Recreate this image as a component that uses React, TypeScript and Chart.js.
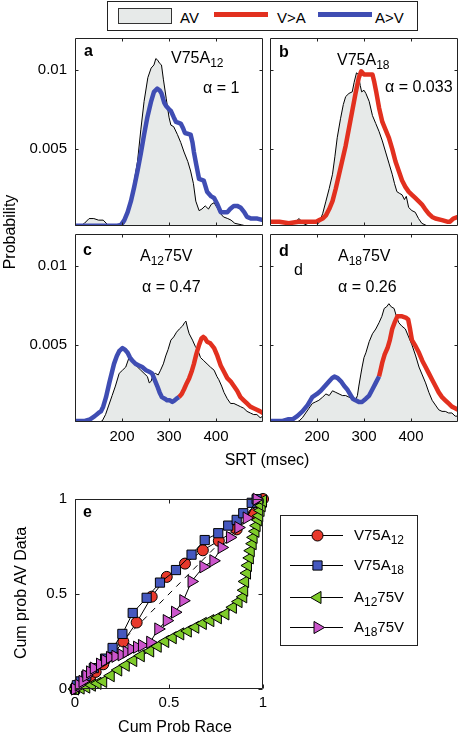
import React, { useEffect, useRef } from "react";
import { Chart, registerables } from "chart.js";
import { drawPoint } from "chart.js/helpers";

Chart.register(...registerables);

const FONT = "'Liberation Sans', Arial, Helvetica, sans-serif";

type Pt = [number, number];

// ---- tick values ----
const SRT_TICKS = [200, 300, 400];
const PROB_TICKS = [0.005, 0.01];
const CUM_TICKS = [0, 0.5, 1];

// ---- panel a: V75A12 ----
const A_AV: Pt[] = [[100,0.0001],[110,0.0001],[120,0.0003],[130,0.0006],[140,0.0006],[150,0.0005],[160,0.0005],[170,0.0002],[180,0.0001],[195,0.0001],[205,0.0003],[215,0.0012],[225,0.0028],[233,0.0042],[240,0.0062],[247,0.008],[255,0.0095],[262,0.0101],[268,0.0103],[272,0.0107],[276,0.0106],[280,0.0104],[284,0.0103],[288,0.0094],[294,0.0082],[300,0.007],[304,0.0065],[310,0.0064],[318,0.0059],[325,0.0054],[332,0.0048],[340,0.0042],[346,0.0036],[352,0.0028],[357,0.0017],[364,0.0011],[370,0.0012],[377,0.0014],[384,0.0012],[390,0.0015],[396,0.0016],[402,0.0013],[410,0.0009],[416,0.0007],[425,0.0006],[432,0.0005],[440,0.0003],[455,0.0002],[468,0.0001],[480,0.0001],[500,0.0001]];
const A_AV_GT_V: Pt[] = [[100,0.00015],[150,0.00015],[190,0.00015],[198,0.0002],[205,0.0005],[212,0.001],[219,0.0017],[226,0.0026],[233,0.0036],[240,0.0047],[247,0.0059],[254,0.007],[262,0.008],[268,0.0086],[275,0.0088],[280,0.0087],[284,0.0085],[290,0.0079],[294,0.0077],[300,0.0075],[304,0.0074],[310,0.007],[315,0.0067],[325,0.0066],[330,0.0063],[334,0.006],[346,0.0059],[350,0.0054],[353,0.0048],[358,0.004],[364,0.0031],[374,0.003],[378,0.0026],[381,0.0023],[390,0.002],[396,0.0019],[403,0.0015],[410,0.001],[424,0.001],[430,0.0012],[438,0.0014],[445,0.0014],[452,0.0013],[460,0.001],[466,0.0007],[475,0.0006],[488,0.0006],[500,0.0005]];

// ---- panel b: V75A18 ----
const B_AV: Pt[] = [[100,0.0001],[130,0.0001],[150,0.0003],[162,0.0006],[170,0.0003],[185,0.0001],[198,0.0001],[205,0.0004],[212,0.0009],[219,0.0017],[226,0.0025],[233,0.0034],[238,0.0045],[243,0.0057],[250,0.0069],[256,0.0078],[261,0.0083],[268,0.0085],[275,0.0086],[279,0.0092],[284,0.0098],[288,0.0097],[292,0.009],[295,0.0086],[300,0.0087],[304,0.0085],[311,0.008],[318,0.0071],[325,0.0066],[332,0.0061],[339,0.0055],[346,0.0048],[353,0.0041],[360,0.0034],[365,0.0028],[370,0.0023],[375,0.0022],[381,0.0021],[386,0.0018],[390,0.002],[395,0.0013],[402,0.0011],[409,0.001],[416,0.0006],[423,0.0003],[430,0.0002],[438,0.0001],[460,0.0001],[500,0.0001]];
const B_V_GT_A: Pt[] = [[100,0.0004],[120,0.0004],[140,0.0003],[160,0.0004],[180,0.0004],[198,0.0004],[205,0.0005],[212,0.0006],[219,0.0008],[226,0.0012],[233,0.0017],[240,0.0025],[247,0.0034],[254,0.0043],[261,0.0052],[268,0.0063],[275,0.0074],[282,0.0085],[289,0.0095],[294,0.0099],[300,0.0097],[310,0.0097],[318,0.0097],[322,0.0092],[326,0.0086],[332,0.0076],[339,0.0067],[346,0.0062],[353,0.0057],[360,0.005],[367,0.0042],[374,0.0036],[381,0.003],[388,0.0026],[395,0.0023],[402,0.0021],[409,0.0019],[416,0.0017],[423,0.0015],[430,0.0012],[438,0.0009],[445,0.0007],[452,0.0006],[466,0.0005],[477,0.0004],[483,0.0004],[490,0.0006],[500,0.0007]];

// ---- panel c: A12 75V ----
const C_AV: Pt[] = [[100,0.0001],[130,0.0001],[150,0.0001],[158,0.0002],[165,0.0006],[172,0.0012],[179,0.0018],[186,0.0024],[194,0.0032],[201,0.0034],[208,0.0036],[215,0.0042],[220,0.0041],[226,0.0038],[233,0.0036],[240,0.0034],[247,0.0032],[254,0.003],[258,0.0026],[262,0.0027],[266,0.0031],[271,0.0032],[277,0.0031],[282,0.0034],[288,0.0038],[293,0.0043],[298,0.0047],[304,0.0053],[310,0.0055],[316,0.0058],[322,0.006],[329,0.0062],[333,0.0064],[336,0.0065],[340,0.006],[343,0.0057],[350,0.0053],[356,0.0049],[361,0.0047],[367,0.0042],[374,0.004],[381,0.0038],[388,0.0036],[396,0.0034],[402,0.003],[406,0.0028],[412,0.0024],[417,0.002],[424,0.0016],[431,0.0013],[438,0.0013],[445,0.0012],[452,0.0011],[459,0.001],[466,0.0008],[473,0.0007],[480,0.0006],[487,0.0006],[494,0.0004],[500,0.0005]];
const C_AV_GT_V: Pt[] = [[100,0.0002],[110,0.0002],[121,0.0002],[132,0.0003],[142,0.0005],[150,0.0007],[155,0.0008],[160,0.0011],[166,0.0017],[173,0.0026],[178,0.0032],[183,0.0038],[189,0.0043],[194,0.0046],[201,0.0048],[206,0.0047],[212,0.0045],[217,0.0042],[222,0.004],[229,0.0038],[236,0.0037],[243,0.0036],[251,0.0034],[258,0.0033],[264,0.0032],[268,0.0029],[275,0.0024],[280,0.002],[285,0.0017],[291,0.0016],[296,0.0015],[302,0.0015],[307,0.0014],[312,0.0015],[316,0.0016],[321,0.0017]];
const C_V_GT_A: Pt[] = [[321,0.0017],[327,0.0019],[332,0.0022],[338,0.0026],[343,0.0029],[348,0.0033],[353,0.0038],[358,0.0044],[364,0.005],[369,0.0054],[373,0.0055],[377,0.0054],[381,0.0052],[388,0.0051],[396,0.0048],[403,0.0043],[410,0.0037],[417,0.0033],[424,0.0029],[431,0.0027],[438,0.0024],[445,0.0021],[452,0.0017],[459,0.0015],[466,0.0013],[473,0.0011],[480,0.001],[487,0.0009],[494,0.0008],[500,0.0007]];

// ---- panel d: A18 75V ----
const D_AV: Pt[] = [[100,0.0001],[140,0.0001],[155,0.0001],[162,0.0002],[169,0.0004],[176,0.0007],[183,0.001],[190,0.0013],[197,0.0014],[204,0.0015],[212,0.0017],[219,0.0019],[226,0.0018],[233,0.0021],[240,0.002],[247,0.0019],[254,0.0018],[261,0.0018],[268,0.0017],[275,0.0016],[282,0.0015],[286,0.0018],[289,0.0024],[293,0.0031],[296,0.0036],[300,0.0042],[304,0.0045],[311,0.0052],[318,0.0057],[325,0.006],[332,0.0064],[338,0.0068],[343,0.0073],[348,0.0074],[353,0.0076],[358,0.0074],[364,0.0073],[369,0.0068],[374,0.0064],[380,0.0062],[388,0.006],[395,0.0055],[402,0.005],[410,0.0043],[417,0.0036],[424,0.0031],[431,0.0026],[438,0.002],[445,0.0015],[452,0.0012],[459,0.0009],[466,0.0008],[473,0.0008],[480,0.0007],[487,0.0007],[494,0.0005],[500,0.0005]];
const D_AV_GT_V: Pt[] = [[100,0.0002],[115,0.0002],[127,0.0002],[138,0.0003],[148,0.0003],[158,0.0005],[169,0.0008],[180,0.0012],[190,0.0017],[200,0.0019],[208,0.0021],[217,0.0024],[226,0.0027],[232,0.0029],[237,0.003],[244,0.0029],[251,0.0027],[258,0.0024],[264,0.0022],[270,0.0019],[276,0.0016],[282,0.0015],[289,0.0014],[296,0.0014],[304,0.0016],[311,0.0018],[318,0.0022],[325,0.0026],[332,0.003]];
const D_V_GT_A: Pt[] = [[332,0.003],[336,0.0035],[339,0.0039],[344,0.0044],[350,0.0048],[355,0.0053],[360,0.006],[365,0.0064],[371,0.0068],[381,0.0068],[390,0.0067],[394,0.0066],[398,0.006],[402,0.0053],[410,0.0049],[417,0.0045],[424,0.004],[431,0.0036],[438,0.0032],[445,0.0028],[452,0.0024],[459,0.002],[466,0.0017],[473,0.0015],[480,0.0013],[487,0.0011],[494,0.001],[500,0.0009]];

// ---- panel e: cumulative probability, race vs AV data ----
const E_V75A12: Pt[] = [[0,0],[0.01,0.01],[0.03,0.02],[0.05,0.04],[0.08,0.06],[0.11,0.09],[0.15,0.13],[0.2,0.18],[0.257,0.25],[0.328,0.35],[0.408,0.486],[0.488,0.59],[0.585,0.66],[0.68,0.73],[0.765,0.78],[0.86,0.84],[0.95,0.92],[0.99,0.97],[1,1]];
const E_V75A18: Pt[] = [[0,0],[0.01,0.02],[0.03,0.04],[0.06,0.07],[0.1,0.11],[0.16,0.16],[0.2,0.216],[0.252,0.29],[0.307,0.4],[0.381,0.48],[0.452,0.56],[0.537,0.626],[0.62,0.707],[0.69,0.784],[0.762,0.82],[0.815,0.86],[0.86,0.89],[0.895,0.925],[0.94,0.98],[0.966,0.999]];
const E_A12_75V: Pt[] = [[0,0],[0.03,0.005],[0.06,0.01],[0.09,0.02],[0.12,0.03],[0.15,0.04],[0.19,0.07],[0.23,0.1],[0.27,0.125],[0.31,0.15],[0.35,0.175],[0.4,0.2],[0.44,0.225],[0.48,0.25],[0.52,0.27],[0.56,0.29],[0.6,0.305],[0.64,0.325],[0.68,0.345],[0.72,0.36],[0.76,0.375],[0.8,0.395],[0.84,0.43],[0.87,0.46],[0.895,0.485],[0.9,0.52],[0.905,0.566],[0.915,0.61],[0.92,0.65],[0.93,0.69],[0.935,0.728],[0.945,0.765],[0.95,0.798],[0.96,0.83],[0.966,0.86],[0.975,0.89],[0.98,0.912],[0.987,0.94],[0.993,0.965],[1,0.99]];
const E_A18_75V: Pt[] = [[0,0],[0.02,0.02],[0.04,0.04],[0.06,0.07],[0.08,0.09],[0.1,0.11],[0.133,0.131],[0.16,0.15],[0.186,0.166],[0.215,0.172],[0.248,0.18],[0.275,0.195],[0.3,0.21],[0.33,0.22],[0.356,0.229],[0.4,0.246],[0.443,0.316],[0.488,0.36],[0.532,0.404],[0.576,0.465],[0.62,0.566],[0.683,0.643],[0.736,0.675],[0.78,0.745],[0.824,0.798],[0.869,0.85],[0.913,0.9],[0.966,0.999]];
const E_DIAG: Pt[] = [[0,0],[1,1]];

// ---- styles ----
const GRAY_FILL = "#e7eae9";
const RED = "#e2301f";
const BLUE = "#3f4db3";
const M_RED = "#e8392b";
const M_BLUE = "#4558bf";
const M_GREEN = "#7fcc2a";
const M_MAG = "#cc55cc";
const FRAME = "#222";

type Part = { t: string; size: number; dy?: number; bold?: boolean };
type Run = { x: number; y: number; parts: Part[] };

const sub = (t: string, size = 12): Part => ({ t, size, dy: 4 });
const txt = (t: string, size = 16, bold = false): Part => ({ t, size, bold });

const xy = (arr: Pt[]) => arr.map(([x, y]) => ({ x, y }));

function drawRuns(ctx: CanvasRenderingContext2D, runs: Run[], ox: number, oy: number) {
  ctx.save();
  ctx.fillStyle = "#000";
  ctx.textBaseline = "alphabetic";
  ctx.textAlign = "left";
  for (const r of runs) {
    let x = r.x - ox;
    for (const p of r.parts) {
      ctx.font = `${p.bold ? "bold " : ""}${p.size}px ${FONT}`;
      ctx.fillText(p.t, x, r.y - oy + (p.dy || 0));
      x += ctx.measureText(p.t).width;
    }
  }
  ctx.restore();
}

const framePlugin = (len: number) => ({
  id: "frameTicks",
  afterDatasetsDraw(chart: any) {
    const { ctx, chartArea: a, scales } = chart;
    ctx.save();
    ctx.strokeStyle = FRAME;
    ctx.lineWidth = 1;
    const L = Math.round(a.left) + 0.5;
    const R = Math.round(a.right) - 0.5;
    const T = Math.round(a.top) + 0.5;
    const B = Math.round(a.bottom) - 0.5;
    ctx.beginPath();
    ctx.rect(L, T, R - L, B - T);
    for (const t of scales.x.ticks) {
      const p = Math.round(scales.x.getPixelForValue(t.value)) + 0.5;
      ctx.moveTo(p, B); ctx.lineTo(p, B - len);
      ctx.moveTo(p, T); ctx.lineTo(p, T + len);
    }
    for (const t of scales.y.ticks) {
      const p = Math.round(scales.y.getPixelForValue(t.value)) + 0.5;
      ctx.moveTo(L, p); ctx.lineTo(L + len, p);
      ctx.moveTo(R, p); ctx.lineTo(R - len, p);
    }
    ctx.stroke();
    ctx.restore();
  },
});

const textPlugin = (runs: Run[], ox: number, oy: number) => ({
  id: "annot",
  afterDraw(chart: any) {
    drawRuns(chart.ctx, runs, ox, oy);
  },
});

type Geo = { left: number; top: number; width: number; height: number; padTop: number; padRight: number; yWidth: number; xHeight: number };

function scaleOpts(opts: { min: number; max: number; ticks: number[]; show: boolean; pad: number; size: number; horizontal: boolean }) {
  return {
    type: "linear" as const,
    display: true,
    min: opts.min,
    max: opts.max,
    afterBuildTicks: (s: any) => {
      s.ticks = opts.ticks.map((v) => ({ value: v }));
    },
    ticks: {
      display: opts.show,
      padding: opts.pad,
      color: "#000",
      font: { family: FONT, size: 15 },
      maxRotation: 0,
      autoSkip: false,
      callback: (v: any) => String(v),
    },
    grid: { display: false, drawTicks: false },
    border: { display: false },
    afterFit: (s: any) => {
      if (opts.horizontal) s.height = opts.size;
      else s.width = opts.size;
      s.paddingLeft = 0; s.paddingRight = 0; s.paddingTop = 0; s.paddingBottom = 0;
    },
  };
}

function ChartCanvas({ geo, build }: { geo: Geo; build: () => any }) {
  const ref = useRef<HTMLCanvasElement>(null);
  useEffect(() => {
    const chart = new Chart(ref.current as HTMLCanvasElement, build());
    return () => chart.destroy();
  }, []);
  return (
    <canvas
      ref={ref}
      width={geo.width}
      height={geo.height}
      style={{ position: "absolute", left: geo.left, top: geo.top, width: geo.width, height: geo.height }}
    />
  );
}

type PanelDef = {
  geo: Geo;
  av: Pt[];
  lines: { data: Pt[]; color: string }[];
  xLabels: boolean;
  yLabels: boolean;
  runs: Run[];
};

function panelConfig(p: PanelDef) {
  const g = p.geo;
  return {
    type: "line",
    data: {
      datasets: [
        ...p.lines.map((l) => ({
          data: xy(l.data),
          borderColor: l.color,
          borderWidth: 4.5,
          fill: false,
          pointRadius: 0,
          tension: 0,
          borderJoinStyle: "round",
          order: 1,
        })),
        {
          data: xy(p.av),
          borderColor: "#000",
          borderWidth: 1,
          backgroundColor: GRAY_FILL,
          fill: "start",
          pointRadius: 0,
          tension: 0,
          order: 10,
        },
      ],
    },
    options: {
      animation: false,
      responsive: false,
      devicePixelRatio: 1,
      events: [],
      layout: { padding: { left: 0, top: g.padTop, right: g.padRight, bottom: 0 } },
      plugins: { legend: { display: false }, tooltip: { enabled: false } },
      scales: {
        x: scaleOpts({ min: 100, max: 500, ticks: SRT_TICKS, show: p.xLabels, pad: 6, size: g.xHeight, horizontal: true }),
        y: scaleOpts({ min: 0.00013, max: 0.012, ticks: PROB_TICKS, show: p.yLabels, pad: 8, size: g.yWidth, horizontal: false }),
      },
    },
    plugins: [framePlugin(3), textPlugin(p.runs, g.left, g.top)],
  };
}

const PANELS: PanelDef[] = [
  {
    geo: { left: 0, top: 0, width: 266, height: 232, padTop: 38, padRight: 3, yWidth: 75, xHeight: 6 },
    av: A_AV,
    lines: [{ data: A_AV_GT_V, color: BLUE }],
    xLabels: false,
    yLabels: true,
    runs: [
      { x: 84, y: 56, parts: [txt("a", 16, true)] },
      { x: 171, y: 63, parts: [txt("V75A"), sub("12")] },
      { x: 203, y: 93, parts: [txt("α = 1")] },
    ],
  },
  {
    geo: { left: 266, top: 0, width: 196, height: 232, padTop: 38, padRight: 4, yWidth: 4, xHeight: 6 },
    av: B_AV,
    lines: [{ data: B_V_GT_A, color: RED }],
    xLabels: false,
    yLabels: false,
    runs: [
      { x: 279, y: 57, parts: [txt("b", 16, true)] },
      { x: 337, y: 65, parts: [txt("V75A"), sub("18")] },
      { x: 385, y: 92, parts: [txt("α = 0.033")] },
    ],
  },
  {
    geo: { left: 0, top: 232, width: 266, height: 240, padTop: 2, padRight: 3, yWidth: 75, xHeight: 50 },
    av: C_AV,
    lines: [
      { data: C_AV_GT_V, color: BLUE },
      { data: C_V_GT_A, color: RED },
    ],
    xLabels: true,
    yLabels: true,
    runs: [
      { x: 83, y: 255, parts: [txt("c", 16, true)] },
      { x: 140, y: 261, parts: [txt("A"), sub("12"), txt("75V")] },
      { x: 142, y: 292, parts: [txt("α = 0.47")] },
    ],
  },
  {
    geo: { left: 266, top: 232, width: 196, height: 240, padTop: 2, padRight: 4, yWidth: 4, xHeight: 50 },
    av: D_AV,
    lines: [
      { data: D_AV_GT_V, color: BLUE },
      { data: D_V_GT_A, color: RED },
    ],
    xLabels: true,
    yLabels: false,
    runs: [
      { x: 279, y: 256, parts: [txt("d", 16, true)] },
      { x: 294, y: 275, parts: [txt("d")] },
      { x: 338, y: 261, parts: [txt("A"), sub("18"), txt("75V")] },
      { x: 338, y: 292, parts: [txt("α = 0.26")] },
    ],
  },
];

// ---- panel e ----
const E_GEO: Geo = { left: 0, top: 470, width: 462, height: 266, padTop: 29, padRight: 199, yWidth: 75, xHeight: 47 };

const E_SERIES = [
  { data: E_V75A12, color: M_RED, style: "circle", radius: 5.5, rotation: 0, label: [txt("V75A", 15), sub("12", 12)], order: 5 },
  { data: E_V75A18, color: M_BLUE, style: "rect", radius: 6.5, rotation: 0, label: [txt("V75A", 15), sub("18", 12)], order: 4 },
  { data: E_A12_75V, color: M_GREEN, style: "triangle", radius: 7, rotation: 270, label: [txt("A", 15), sub("12", 12), txt("75V", 15)], order: 3 },
  { data: E_A18_75V, color: M_MAG, style: "triangle", radius: 7, rotation: 90, label: [txt("A", 15), sub("18", 12), txt("75V", 15)], order: 2 },
];

const E_LEGEND_ROWS = [535, 565, 597, 627];

const eLegendPlugin = {
  id: "eLegend",
  afterDraw(chart: any) {
    const ctx = chart.ctx as CanvasRenderingContext2D;
    const ox = E_GEO.left;
    const oy = E_GEO.top;
    ctx.save();
    ctx.strokeStyle = FRAME;
    ctx.lineWidth = 1;
    ctx.strokeRect(280.5 - ox, 515.5 - oy, 137, 130);
    E_SERIES.forEach((s, i) => {
      const cy = E_LEGEND_ROWS[i] - oy;
      ctx.strokeStyle = "#000";
      ctx.lineWidth = 1;
      ctx.beginPath();
      ctx.moveTo(290 - ox, cy + 0.5);
      ctx.lineTo(343 - ox, cy + 0.5);
      ctx.stroke();
      ctx.fillStyle = s.color;
      ctx.strokeStyle = "#000";
      ctx.lineWidth = 1;
      drawPoint(ctx, { pointStyle: s.style as any, radius: s.radius, rotation: s.rotation, borderWidth: 1 }, 317.5 - ox, cy + 0.5);
      drawRuns(ctx, [{ x: 354, y: E_LEGEND_ROWS[i] + 5, parts: s.label }], ox, oy);
    });
    ctx.restore();
  },
};

function eConfig() {
  return {
    type: "line",
    data: {
      datasets: [
        ...E_SERIES.map((s) => ({
          data: xy(s.data),
          borderColor: "#000",
          borderWidth: 1,
          pointStyle: s.style,
          pointRadius: s.radius,
          pointRotation: s.rotation,
          pointBackgroundColor: s.color,
          pointBorderColor: "#000",
          pointBorderWidth: 1,
          tension: 0,
          fill: false,
          clip: false,
          order: s.order,
        })),
        {
          data: xy(E_DIAG),
          borderColor: "#000",
          borderWidth: 1,
          borderDash: [6, 6],
          pointRadius: 0,
          fill: false,
          order: 10,
        },
      ],
    },
    options: {
      animation: false,
      responsive: false,
      devicePixelRatio: 1,
      events: [],
      layout: { padding: { left: 0, top: E_GEO.padTop, right: E_GEO.padRight, bottom: 0 } },
      plugins: { legend: { display: false }, tooltip: { enabled: false } },
      scales: {
        x: scaleOpts({ min: 0, max: 1, ticks: CUM_TICKS, show: true, pad: 5, size: E_GEO.xHeight, horizontal: true }),
        y: scaleOpts({ min: 0, max: 1, ticks: CUM_TICKS, show: true, pad: 8, size: E_GEO.yWidth, horizontal: false }),
      },
    },
    plugins: [framePlugin(4), textPlugin([{ x: 83, y: 517, parts: [txt("e", 16, true)] }], E_GEO.left, E_GEO.top), eLegendPlugin],
  };
}

const abs = (left: number, top: number, extra: React.CSSProperties = {}): React.CSSProperties => ({
  position: "absolute",
  left,
  top,
  ...extra,
});

const labelStyle: React.CSSProperties = {
  fontFamily: FONT,
  fontSize: 16,
  lineHeight: "16px",
  whiteSpace: "nowrap",
  color: "#000",
};

function AxisTitle({ cx, cy, text, vertical }: { cx: number; cy: number; text: string; vertical?: boolean }) {
  return (
    <div
      style={{
        ...labelStyle,
        position: "absolute",
        left: cx,
        top: cy,
        transform: `translate(-50%, -50%)${vertical ? " rotate(-90deg)" : ""}`,
      }}
    >
      {text}
    </div>
  );
}

function TopLegend() {
  const t: React.CSSProperties = { ...labelStyle, fontSize: 15, lineHeight: "15px" };
  return (
    <>
      <div style={abs(107, 1, { width: 311, height: 30, boxSizing: "border-box", border: `1px solid ${FRAME}` })} />
      <div style={abs(118, 8, { width: 54, height: 16, boxSizing: "border-box", border: "1px solid #333", background: GRAY_FILL })} />
      <div style={abs(180, 10, t)}>AV</div>
      <div style={abs(214, 12, { width: 54, height: 4.5, background: RED })} />
      <div style={abs(277, 10, t)}>V&gt;A</div>
      <div style={abs(318, 12, { width: 54, height: 4.5, background: BLUE })} />
      <div style={abs(375, 10, t)}>A&gt;V</div>
    </>
  );
}

export default function App() {
  return (
    <div style={{ position: "absolute", left: 0, top: 0, width: 462, height: 736, background: "#fff", overflow: "hidden" }}>
      <TopLegend />
      {PANELS.map((p, i) => (
        <ChartCanvas key={i} geo={p.geo} build={() => panelConfig(p)} />
      ))}
      <ChartCanvas geo={E_GEO} build={eConfig} />
      <AxisTitle cx={10} cy={232} text="Probability" vertical />
      <AxisTitle cx={267} cy={460} text="SRT (msec)" />
      <AxisTitle cx={21} cy={593} text="Cum prob AV Data" vertical />
      <AxisTitle cx={175} cy={727} text="Cum Prob Race" />
    </div>
  );
}
